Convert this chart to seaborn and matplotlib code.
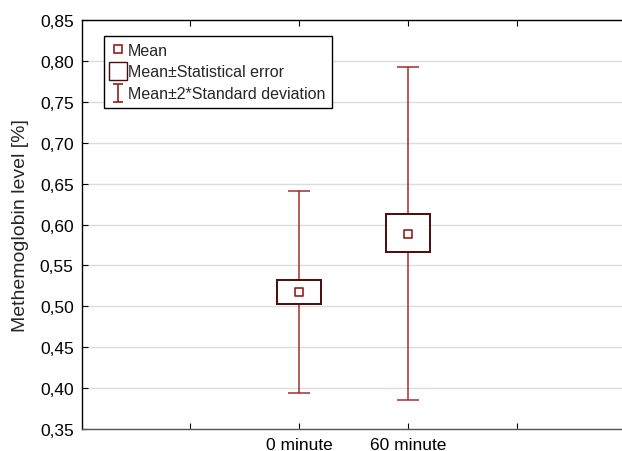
import numpy as np
import pandas as pd
import matplotlib
matplotlib.use("Agg")
import matplotlib.pyplot as plt
from matplotlib.lines import Line2D
from matplotlib.path import Path
from matplotlib.ticker import FuncFormatter, MultipleLocator
import seaborn as sns

# dados
grupos = ["0 minute", "60 minute"]
media = [0.517, 0.589]
erro_inf = [0.503, 0.566]
erro_sup = [0.532, 0.613]
dp_inf = [0.394, 0.386]
dp_sup = [0.641, 0.793]

df = pd.DataFrame({"grupo": grupos, "media": media,
                   "ei": erro_inf, "es": erro_sup,
                   "di": dp_inf, "ds": dp_sup})
df["pos"] = np.arange(len(df))

sns.set_style("ticks")
plt.rcParams["font.family"] = ["Liberation Sans", "DejaVu Sans"]

vermelho = "#9b1c1c"
escuro = "#4d0a0a"

fig = plt.figure(figsize=(6.22, 4.52), dpi=100)
ax = fig.add_axes([0.1318, 0.0487, 0.8682, 0.9048])

ax.yaxis.grid(True, color="#dcdcdc", linewidth=1)
ax.set_axisbelow(True)

# bigodes (media +- 2*dp)
ax.errorbar(df["pos"], df["media"],
            yerr=[df["media"] - df["di"], df["ds"] - df["media"]],
            fmt="none", ecolor=vermelho, elinewidth=1.2, capsize=8,
            capthick=1.2, alpha=0.85, zorder=2)

# caixas (media +- erro)
ax.bar(df["pos"], df["es"] - df["ei"], bottom=df["ei"], width=0.4,
       color="white", edgecolor=escuro, linewidth=1.4, zorder=3)

# media
sns.scatterplot(data=df, x="pos", y="media", marker="s", s=40,
                facecolor="white", edgecolor=vermelho, linewidth=1.2,
                ax=ax, zorder=4, legend=False)

ax.set_xlim(-1.99, 2.96)
ax.set_ylim(0.35, 0.85)
ax.set_xticks([-1, 0, 1, 2])
ax.set_xticklabels(["", grupos[0], grupos[1], ""])
ax.yaxis.set_major_locator(MultipleLocator(0.05))
ax.yaxis.set_major_formatter(FuncFormatter(lambda v, p: f"{v:.2f}".replace(".", ",")))
ax.tick_params(direction="in", length=4, labelsize=12.5, colors="black",
               top=True)
ax.tick_params(axis="x", pad=6)
ax.tick_params(axis="y", pad=6)
ax.set_xlabel("")
ax.set_ylabel("Methemoglobin level [%]", fontsize=14, labelpad=8)

for lado in ["left", "top", "bottom"]:
    ax.spines[lado].set_color("black")
    ax.spines[lado].set_linewidth(1)
ax.spines["right"].set_visible(False)
ax.spines["bottom"].set_color("#555555")

# legenda
marca_i = Path([(-0.6, -1), (0.6, -1), (0, -1), (0, 1), (-0.6, 1), (0.6, 1)],
               [Path.MOVETO, Path.LINETO, Path.MOVETO, Path.LINETO,
                Path.MOVETO, Path.LINETO])
itens = [
    Line2D([], [], linestyle="none", marker="s", markersize=6,
           markerfacecolor="white", markeredgecolor=vermelho, markeredgewidth=1.2),
    Line2D([], [], linestyle="none", marker="s", markersize=13,
           markerfacecolor="white", markeredgecolor=escuro, markeredgewidth=1.0),
    Line2D([], [], linestyle="none", marker=marca_i, markersize=13,
           markerfacecolor="none", markeredgecolor=vermelho, markeredgewidth=1.2),
]
nomes = ["Mean", "Mean\u00b1Statistical error", "Mean\u00b12*Standard deviation"]
leg = ax.legend(itens, nomes, loc="upper left", bbox_to_anchor=(0.04, 0.962),
                fontsize=11.5, frameon=True, fancybox=False, framealpha=1,
                edgecolor="black", handlelength=0.9, handletextpad=0.15,
                borderpad=0.45, labelspacing=0.42, borderaxespad=0)
leg.get_frame().set_linewidth(1)

plt.savefig("out.png", dpi=100)
